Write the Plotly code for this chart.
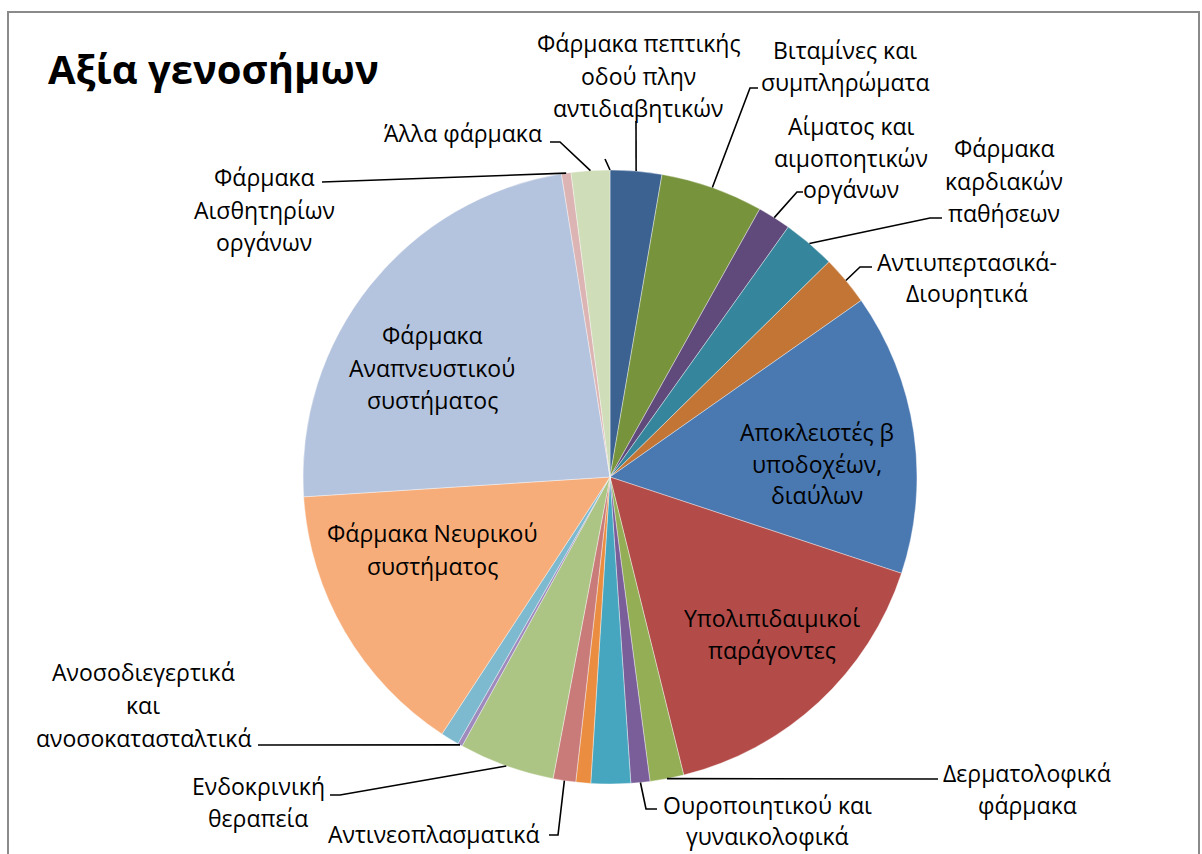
import math
import plotly.graph_objects as go

# ---- data -------------------------------------------------------------
categories = [
    "Φάρμακα πεπτικής οδού πλην αντιδιαβητικών",
    "Βιταμίνες και συμπληρώματα",
    "Αίματος και αιμοποητικών οργάνων",
    "Φάρμακα καρδιακών παθήσεων",
    "Αντιυπερτασικά-Διουρητικά",
    "Αποκλειστές β υποδοχέων, διαύλων",
    "Υπολιπιδαιμικοί παράγοντες",
    "Δερματολοφικά φάρμακα",
    "Ουροποιητικού και γυναικολοφικά",
    "Ορμονικά σκευάσματα συστηματικής χρήσης",
    "Αντιλοιμώδη",
    "Αντινεοπλασματικά",
    "Ενδοκρινική θεραπεία",
    "Ανοσοδιεγερτικά και ανοσοκατασταλτικά",
    "Μυοσκελετικό σύστημα",
    "Φάρμακα Νευρικού συστήματος",
    "Φάρμακα Αναπνευστικού συστήματος",
    "Φάρμακα Αισθητηρίων οργάνων",
    "Άλλα φάρμακα",
]
values = [2.71, 5.40, 1.75, 2.78, 2.61, 14.83, 16.06, 1.78, 1.00, 2.08,
          0.78, 1.19, 5.03, 0.25, 0.97, 14.75, 23.50, 0.50, 2.03]
colors = ["#3C6292", "#77933C", "#604A7B", "#35869C", "#C27535", "#4A78B1",
          "#B34C49", "#93AE55", "#7A5E99", "#47A6BF", "#EA8D40", "#C97B79",
          "#ADC584", "#9E8ABD", "#7DBAD0", "#F7AD7A", "#B5C4DE", "#DBB4B3",
          "#CFDDB8"]

# Label text lines for each category (missing -> no label drawn)
label_lines = {
    0: ["Φάρμακα πεπτικής", "οδού πλην", "αντιδιαβητικών"],
    1: ["Βιταμίνες και", "συμπληρώματα"],
    2: ["Αίματος και", "αιμοποητικών", "οργάνων"],
    3: ["Φάρμακα", "καρδιακών", "παθήσεων"],
    4: ["Αντιυπερτασικά-", "Διουρητικά"],
    5: ["Αποκλειστές β", "υποδοχέων,", "διαύλων"],
    6: ["Υπολιπιδαιμικοί", "παράγοντες"],
    7: ["Δερματολοφικά", "φάρμακα"],
    8: ["Ουροποιητικού και", "γυναικολοφικά"],
    11: ["Αντινεοπλασματικά"],
    12: ["Ενδοκρινική", "θεραπεία"],
    13: ["Ανοσοδιεγερτικά", "και", "ανοσοκατασταλτικά"],
    15: ["Φάρμακα Νευρικού", "συστήματος"],
    16: ["Φάρμακα", "Αναπνευστικού", "συστήματος"],
    17: ["Φάρμακα", "Αισθητηρίων", "οργάνων"],
    18: ["Άλλα φάρμακα"],
}

# ---- layout geometry (pixels) ----------------------------------------
W, H = 1202, 854
CX, CY, R = 610, 477, 307
FONT = "Open Sans, Noto Sans, sans-serif"
FS = 23


def px(x):
    return x / W


def py(y):
    return 1 - y / H


# label placement: centre x, first line y, line spacing, leader waypoints
placement = {
    0: (638, 43, 32.5, [(636, 121)]),
    1: (845, 50, 32.5, [(750, 88), (758, 88)]),
    2: (851, 126, 31.5, [(797, 192), (803, 192)]),
    3: (1004, 148, 32.5, [(930, 218), (942, 218)]),
    4: (967, 262, 31, [(860, 267), (872, 267)]),
    5: (817, 432, 31.5, None),
    6: (772, 618, 31.5, None),
    7: (1027, 773, 32, [(938, 779)]),
    8: (767, 805, 31, [(646, 809), (657, 809)]),
    11: (433, 834, 31, [(558, 835), (549, 835)]),
    12: (258, 786, 32, [(340, 795), (330, 795)]),
    13: (143, 672, 33, [(258, 745)]),
    15: (432, 533, 33, None),
    16: (432, 335, 32.5, None),
    17: (264, 177, 32.5, [(322, 182)]),
    18: (463, 133, 31, [(560, 142), (550, 142)]),
}

total = sum(values)


def edge_point(frac):
    ang = 2 * math.pi * frac
    return CX + R * math.sin(ang), CY - R * math.cos(ang)


fig = go.Figure(go.Pie(
    labels=categories,
    values=values,
    sort=False,
    direction="clockwise",
    rotation=0,
    textinfo="none",
    hoverinfo="label+percent",
    marker=dict(colors=colors, line=dict(color="rgba(255,255,255,0.55)", width=0.7)),
    domain=dict(x=[px(CX - R), px(CX + R)], y=[py(CY + R), py(CY - R)]),
    showlegend=False,
))

annotations = []
shapes = []

# chart area frame
shapes.append(dict(type="rect", xref="paper", yref="paper",
                   x0=px(8), y0=py(12), x1=px(1199), y1=-0.05,
                   line=dict(color="#8a8a8a", width=2), fillcolor="rgba(0,0,0,0)",
                   layer="below"))

# title
annotations.append(dict(text="<b>Αξία γενοσήμων</b>", x=px(46), y=py(69),
                        xref="paper", yref="paper", xanchor="left", yanchor="middle",
                        showarrow=False, font=dict(family=FONT, size=40, color="#000")))

cum = 0.0
mids = []
for v in values:
    mids.append((cum + v / 2) / total)
    cum += v

for i, lines in label_lines.items():
    cx, y0, sp, leader = placement[i]
    for k, line in enumerate(lines):
        annotations.append(dict(text=line, x=px(cx), y=py(y0 + k * sp),
                                xref="paper", yref="paper", xanchor="center",
                                yanchor="middle", showarrow=False,
                                font=dict(family=FONT, size=FS, color="#000")))
    if leader:
        ex, ey = edge_point(mids[i])
        pts = [(ex, ey)] + leader
        path = "M " + " L ".join(f"{px(x):.5f},{py(y):.5f}" for x, y in pts)
        shapes.append(dict(type="path", xref="paper", yref="paper", path=path,
                           line=dict(color="#000", width=1.6)))

# short leader at the start of the circle
sx, sy = edge_point(0.0)
shapes.append(dict(type="path", xref="paper", yref="paper",
                   path=f"M {px(sx):.5f},{py(sy):.5f} L {px(605):.5f},{py(159):.5f}",
                   line=dict(color="#000", width=1.6)))

fig.update_layout(
    width=W, height=H,
    margin=dict(l=0, r=0, t=0, b=0),
    paper_bgcolor="white",
    plot_bgcolor="white",
    annotations=annotations,
    shapes=shapes,
)

fig.write_html("out.html")
